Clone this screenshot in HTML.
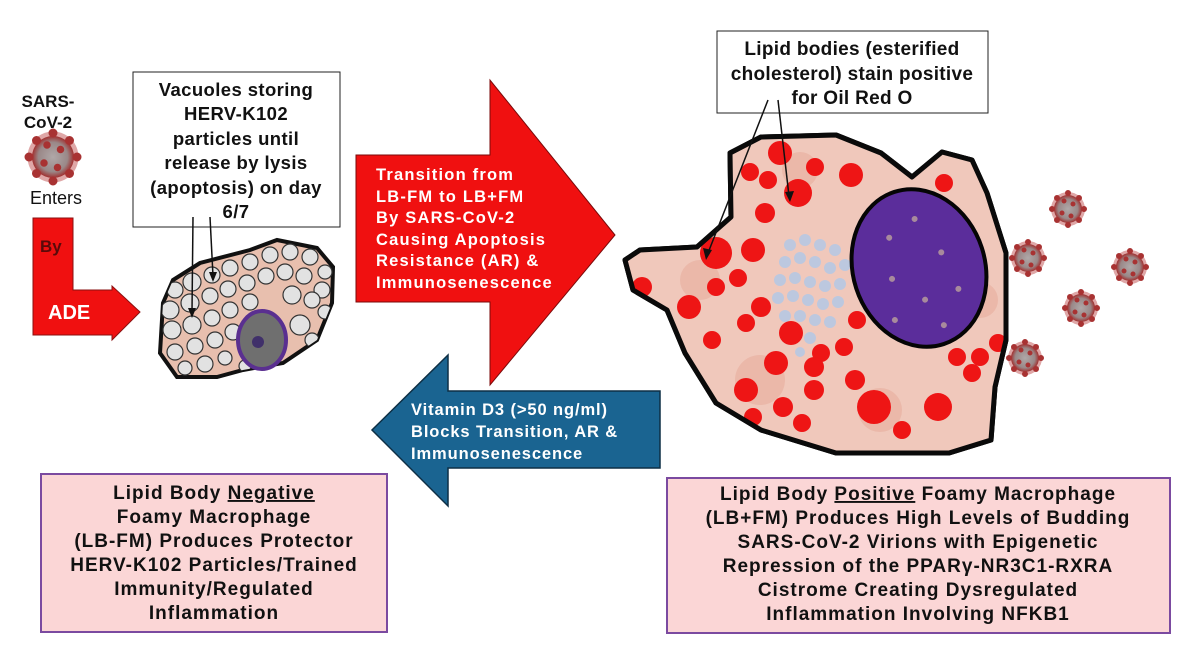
<!DOCTYPE html>
<html><head><meta charset="utf-8"><style>
html,body{margin:0;padding:0;background:#fff;}
svg{display:block;}
text{font-family:"Liberation Sans",Arial,sans-serif;font-weight:bold;}
</style></head><body>
<svg width="1200" height="649" viewBox="0 0 1200 649" xmlns="http://www.w3.org/2000/svg">
<defs>
<radialGradient id="vir" cx="50%" cy="50%" r="50%">
<stop offset="0" stop-color="#b0a8a8"/><stop offset="0.7" stop-color="#9a8888"/><stop offset="1" stop-color="#a03030"/></radialGradient>
<g id="virus">
<circle r="17" fill="#c05050" opacity="0.5"/>
<circle r="14" fill="url(#vir)"/>
<g stroke="#a83232" stroke-width="2" fill="#a83232">
<circle cx="0" cy="-16" r="2"/><circle cx="0" cy="16" r="2"/><circle cx="16" cy="0" r="2"/><circle cx="-16" cy="0" r="2"/>
<circle cx="11" cy="11" r="2"/><circle cx="-11" cy="11" r="2"/><circle cx="11" cy="-11" r="2"/><circle cx="-11" cy="-11" r="2"/>
<circle cx="5" cy="-5" r="1.5"/><circle cx="-6" cy="4" r="1.5"/><circle cx="3" cy="7" r="1.5"/><circle cx="-4" cy="-8" r="1.5"/>
</g></g>
<clipPath id="small"><path d="M163,303 L173,280 L200,263 L250,250 L277,240 L317,248 L333,267 L332,303 L317,340 L283,363 L243,370 L217,377 L177,377 L160,353 Z"/></clipPath>
<clipPath id="big"><path d="M730,153 L761,137 L836,135 L881,153 L912,177 L942,152 L972,160 L987,193 L1006,253 L1006,340 L995,387 L991,440 L949,453 L836,453 L761,430 L716,403 L685,353 L667,310 L633,290 L625,260 L640,250 L697,247 L731,217 Z"/></clipPath>
</defs>

<!-- left texts -->
<text x="48" y="107" font-size="17" text-anchor="middle" fill="#111">SARS-</text>
<text x="48" y="128" font-size="17" text-anchor="middle" fill="#111">CoV-2</text>
<use href="#virus" transform="translate(53,157) scale(1.5)"/>
<text x="56" y="204" font-size="18" text-anchor="middle" fill="#111" style="font-weight:normal">Enters</text>

<!-- L arrow -->
<path d="M33,218 L73,218 L73,290 L112,290 L112,286 L140,312 L112,340 L112,335 L33,335 Z" fill="#f01010" stroke="#8a1010" stroke-width="1"/>
<text x="40" y="252" font-size="17" fill="#5a0a0a">By</text>
<text x="48" y="319" font-size="20" fill="#fff">ADE</text>

<!-- vacuole box -->
<rect x="133" y="72" width="207" height="155" fill="#fff" stroke="#222" stroke-width="1"/>
<g font-size="18.5" text-anchor="middle" fill="#111" letter-spacing="0.4">
<text x="236" y="96">Vacuoles storing</text>
<text x="236" y="120">HERV-K102</text>
<text x="236" y="145">particles until</text>
<text x="236" y="169">release by lysis</text>
<text x="236" y="194">(apoptosis) on day</text>
<text x="236" y="218">6/7</text>
</g>

<!-- small cell -->
<path d="M163,303 L173,280 L200,263 L250,250 L277,240 L317,248 L333,267 L332,303 L317,340 L283,363 L243,370 L217,377 L177,377 L160,353 Z" fill="#e8bfae" stroke="#111" stroke-width="4"/>
<g clip-path="url(#small)" fill="#e2e2e2" stroke="#333" stroke-width="1.2">
<circle cx="175" cy="290" r="8"/><circle cx="192" cy="282" r="9"/><circle cx="212" cy="275" r="8"/><circle cx="230" cy="268" r="8"/><circle cx="250" cy="262" r="8"/><circle cx="270" cy="255" r="8"/><circle cx="290" cy="252" r="8"/><circle cx="310" cy="257" r="8"/><circle cx="325" cy="272" r="7"/>
<circle cx="170" cy="310" r="9"/><circle cx="190" cy="303" r="9"/><circle cx="210" cy="296" r="8"/><circle cx="228" cy="289" r="8"/><circle cx="247" cy="283" r="8"/><circle cx="266" cy="276" r="8"/><circle cx="285" cy="272" r="8"/><circle cx="304" cy="276" r="8"/><circle cx="322" cy="290" r="8"/>
<circle cx="172" cy="330" r="9"/><circle cx="192" cy="325" r="9"/><circle cx="212" cy="318" r="8"/><circle cx="230" cy="310" r="8"/><circle cx="250" cy="302" r="8"/><circle cx="292" cy="295" r="9"/><circle cx="312" cy="300" r="8"/><circle cx="325" cy="312" r="7"/>
<circle cx="175" cy="352" r="8"/><circle cx="195" cy="346" r="8"/><circle cx="215" cy="340" r="8"/><circle cx="233" cy="332" r="8"/><circle cx="300" cy="325" r="10"/><circle cx="312" cy="340" r="7"/>
<circle cx="185" cy="368" r="7"/><circle cx="205" cy="364" r="8"/><circle cx="225" cy="358" r="7"/><circle cx="245" cy="366" r="6"/>
</g>
<ellipse cx="262" cy="340" rx="24" ry="29" fill="#6f6f6f" stroke="#5a2f90" stroke-width="4"/>
<circle cx="258" cy="342" r="6" fill="#40306a"/>
<g stroke="#111" stroke-width="1.5">
<line x1="193" y1="217" x2="192" y2="312"/><line x1="210" y1="217" x2="213" y2="276"/></g>
<path d="M188,308 L192,318 L196,308 Z M209,272 L213,282 L217,272 Z" fill="#111"/>

<!-- red big arrow -->
<path d="M356,155 L490,155 L490,80 L615,235 L490,385 L490,302 L356,302 Z" fill="#f01010" stroke="#7a0a0a" stroke-width="1"/>
<g font-size="16.5" fill="#fff" letter-spacing="1.2">
<text x="376" y="180">Transition from</text>
<text x="376" y="202">LB-FM to LB+FM</text>
<text x="376" y="223">By SARS-CoV-2</text>
<text x="376" y="245">Causing Apoptosis</text>
<text x="376" y="266">Resistance (AR) &amp;</text>
<text x="376" y="288">Immunosenescence</text>
</g>

<!-- blue arrow -->
<path d="M660,391 L448,391 L448,355 L372,430 L448,506 L448,468 L660,468 Z" fill="#1a6491" stroke="#0d2f45" stroke-width="1.5"/>
<g font-size="16.5" fill="#fff" letter-spacing="0.9">
<text x="411" y="415">Vitamin D3 (&gt;50 ng/ml)</text>
<text x="411" y="437">Blocks Transition, AR &amp;</text>
<text x="411" y="459">Immunosenescence</text>
</g>

<!-- big cell -->
<path d="M730,153 L761,137 L836,135 L881,153 L912,177 L942,152 L972,160 L987,193 L1006,253 L1006,340 L995,387 L991,440 L949,453 L836,453 L761,430 L716,403 L685,353 L667,310 L633,290 L625,260 L640,250 L697,247 L731,217 Z" fill="#efc2b4" stroke="#0a0a0a" stroke-width="5" stroke-linejoin="round"/>
<g clip-path="url(#big)">
<rect x="620" y="130" width="390" height="330" fill="#f0c8bb"/>
<g fill="#e5a898" opacity="0.5">
<circle cx="700" cy="280" r="20"/><circle cx="760" cy="380" r="25"/><circle cx="880" cy="410" r="22"/><circle cx="980" cy="300" r="18"/><circle cx="800" cy="170" r="18"/></g>
<g fill="#b7c8e4" opacity="0.9">
<circle cx="790" cy="245" r="6"/><circle cx="805" cy="240" r="6"/><circle cx="820" cy="245" r="6"/><circle cx="835" cy="250" r="6"/>
<circle cx="785" cy="262" r="6"/><circle cx="800" cy="258" r="6"/><circle cx="815" cy="262" r="6"/><circle cx="830" cy="268" r="6"/><circle cx="845" cy="265" r="6"/>
<circle cx="780" cy="280" r="6"/><circle cx="795" cy="278" r="6"/><circle cx="810" cy="282" r="6"/><circle cx="825" cy="286" r="6"/><circle cx="840" cy="284" r="6"/>
<circle cx="778" cy="298" r="6"/><circle cx="793" cy="296" r="6"/><circle cx="808" cy="300" r="6"/><circle cx="823" cy="304" r="6"/><circle cx="838" cy="302" r="6"/>
<circle cx="785" cy="316" r="6"/><circle cx="800" cy="316" r="6"/><circle cx="815" cy="320" r="6"/><circle cx="830" cy="322" r="6"/>
<circle cx="795" cy="335" r="6"/><circle cx="810" cy="338" r="6"/><circle cx="800" cy="352" r="5"/></g>
<g transform="rotate(-18 919 268)">
<ellipse cx="919" cy="268" rx="66" ry="80" fill="#5b2d9b" stroke="#050505" stroke-width="4"/>
<g fill="#a88a9c"><circle cx="900" cy="230" r="3"/><circle cx="930" cy="220" r="3"/><circle cx="890" cy="270" r="3"/><circle cx="945" cy="260" r="3"/><circle cx="915" cy="300" r="3"/><circle cx="950" cy="300" r="3"/><circle cx="880" cy="310" r="3"/><circle cx="925" cy="330" r="3"/></g>
</g>
<g fill="#ee1515">
<circle cx="780" cy="153" r="12"/><circle cx="815" cy="167" r="9"/><circle cx="851" cy="175" r="12"/><circle cx="750" cy="172" r="9"/><circle cx="768" cy="180" r="9"/><circle cx="798" cy="193" r="14"/><circle cx="765" cy="213" r="10"/><circle cx="716" cy="253" r="16"/><circle cx="753" cy="250" r="12"/><circle cx="642" cy="287" r="10"/><circle cx="716" cy="287" r="9"/><circle cx="738" cy="278" r="9"/><circle cx="689" cy="307" r="12"/><circle cx="761" cy="307" r="10"/><circle cx="712" cy="340" r="9"/><circle cx="746" cy="323" r="9"/><circle cx="791" cy="333" r="12"/><circle cx="857" cy="320" r="9"/><circle cx="844" cy="347" r="9"/><circle cx="821" cy="353" r="9"/><circle cx="776" cy="363" r="12"/><circle cx="814" cy="367" r="10"/><circle cx="855" cy="380" r="10"/><circle cx="746" cy="390" r="12"/><circle cx="783" cy="407" r="10"/><circle cx="814" cy="390" r="10"/><circle cx="874" cy="407" r="17"/><circle cx="938" cy="407" r="14"/><circle cx="902" cy="430" r="9"/><circle cx="753" cy="417" r="9"/><circle cx="802" cy="423" r="9"/><circle cx="957" cy="357" r="9"/><circle cx="980" cy="357" r="9"/><circle cx="998" cy="343" r="9"/><circle cx="972" cy="373" r="9"/><circle cx="944" cy="183" r="9"/></g>
</g>
<path d="M730,153 L761,137 L836,135 L881,153 L912,177 L942,152 L972,160 L987,193 L1006,253 L1006,340 L995,387 L991,440 L949,453 L836,453 L761,430 L716,403 L685,353 L667,310 L633,290 L625,260 L640,250 L697,247 L731,217 Z" fill="none" stroke="#0a0a0a" stroke-width="5" stroke-linejoin="round"/>

<use href="#virus" transform="translate(1068,209)"/>
<use href="#virus" transform="translate(1028,258)"/>
<use href="#virus" transform="translate(1130,267)"/>
<use href="#virus" transform="translate(1081,308)"/>
<use href="#virus" transform="translate(1025,358)"/>

<!-- lipid box -->
<rect x="717" y="31" width="271" height="82" fill="#fff" stroke="#222" stroke-width="1"/>
<g font-size="19" text-anchor="middle" fill="#111" letter-spacing="0.3">
<text x="852" y="55">Lipid bodies (esterified</text>
<text x="852" y="80">cholesterol) stain positive</text>
<text x="852" y="104">for Oil Red O</text>
</g>
<g stroke="#111" stroke-width="1.5">
<line x1="768" y1="100" x2="708" y2="253"/><line x1="778" y1="100" x2="789" y2="196"/></g>
<path d="M703,248 L706,260 L712,250 Z M785,192 L790,202 L794,191 Z" fill="#111"/>

<!-- bottom boxes -->
<rect x="41" y="474" width="346" height="158" fill="#fbd6d6" stroke="#7b4aa0" stroke-width="2"/>
<g font-size="19" text-anchor="middle" fill="#111" letter-spacing="1">
<text x="214" y="499">Lipid Body <tspan text-decoration="underline">Negative</tspan></text>
<text x="214" y="523">Foamy Macrophage</text>
<text x="214" y="547">(LB-FM) Produces Protector</text>
<text x="214" y="571">HERV-K102 Particles/Trained</text>
<text x="214" y="595">Immunity/Regulated</text>
<text x="214" y="619">Inflammation</text>
</g>
<rect x="667" y="478" width="503" height="155" fill="#fbd6d6" stroke="#7b4aa0" stroke-width="2"/>
<g font-size="19" text-anchor="middle" fill="#111" letter-spacing="1">
<text x="918" y="500">Lipid Body <tspan text-decoration="underline">Positive</tspan> Foamy Macrophage</text>
<text x="918" y="524">(LB+FM) Produces High Levels of Budding</text>
<text x="918" y="548">SARS-CoV-2 Virions with Epigenetic</text>
<text x="918" y="572">Repression of the PPARγ-NR3C1-RXRA</text>
<text x="918" y="596">Cistrome Creating Dysregulated</text>
<text x="918" y="620">Inflammation Involving NFKB1</text>
</g>
</svg>
</body></html>
